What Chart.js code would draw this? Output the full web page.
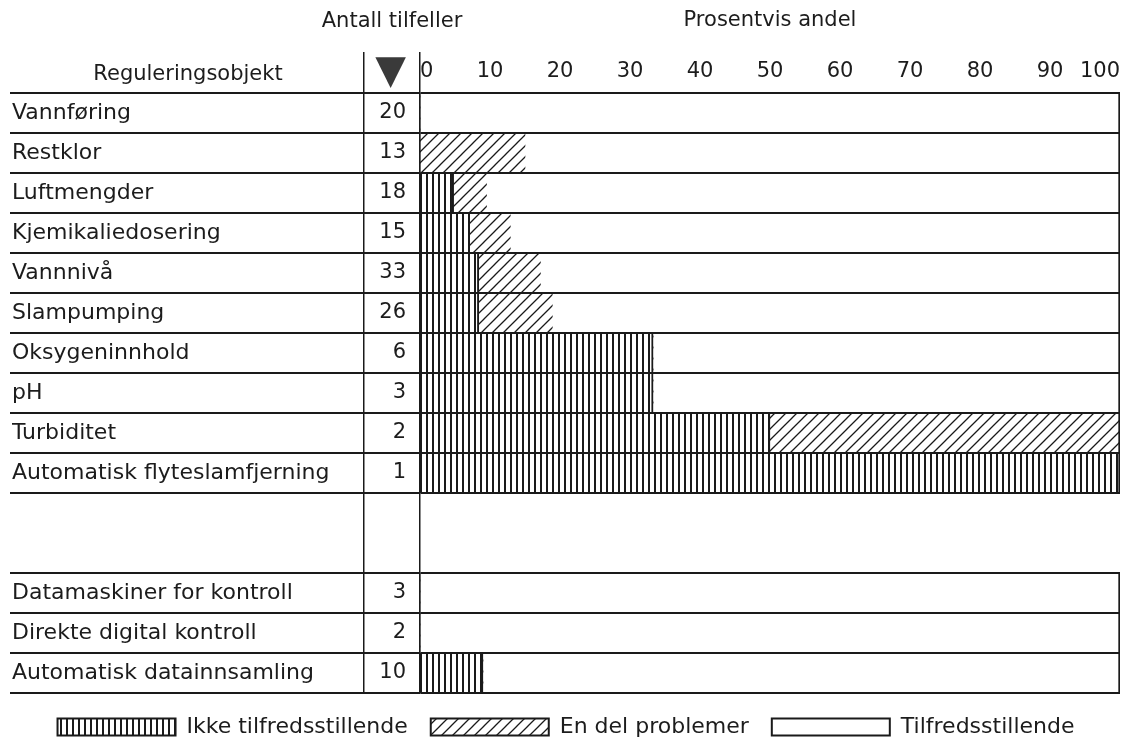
<!DOCTYPE html>
<html>
<head>
<meta charset="utf-8">
<script src="https://cdn.jsdelivr.net/npm/chart.js@4.4.1/dist/chart.umd.min.js"></script>
<style>
body { margin: 0; background: #fff; }
#wrap { position: relative; width: 1142px; height: 751px; }
.head { position: absolute; font-family: "DejaVu Sans"; font-size: 21px; line-height: 24px; color: #1c1c1c; text-align: center; }
</style>
</head>
<body>
<div id="wrap">
  <canvas id="chart" width="1142" height="751"></canvas>
  <div class="head" style="left:292px; top:8px; width:200px;">Antall tilfeller</div>
  <div class="head" style="left:12px; top:61px; width:352px;">Reguleringsobjekt</div>
</div>
<script>
// rows (two empty rows = the gap in the table)
const categories = [
  "Vannføring", "Restklor", "Luftmengder", "Kjemikaliedosering", "Vannnivå",
  "Slampumping", "Oksygeninnhold", "pH", "Turbiditet", "Automatisk flyteslamfjerning",
  "", "",
  "Datamaskiner for kontroll", "Direkte digital kontroll", "Automatisk datainnsamling"
];
const antall = [20, 13, 18, 15, 33, 26, 6, 3, 2, 1, null, null, 3, 2, 10];

// prosentvis andel
const ikkeTilfreds = [0, 0, 4.8, 7.1, 8.4, 8.4, 33.3, 33.3, 50, 100, null, null, 0, 0, 9];
const delProblemer = [0, 15, 4.7, 5.8, 8.8, 10.5, 0, 0, 50, 0, null, null, 0, 0, 0];
const tilfreds = [100, 85, 90.5, 87.1, 82.8, 81.1, 66.7, 66.7, 0, 0, null, null, 100, 100, 91];

const seriesNames = ["Ikke tilfredsstillende", "En del problemer", "Tilfredsstillende"];
const headMark = "▼";

const ink = "#1a1a1a";
Chart.defaults.font.family = "DejaVu Sans";
Chart.defaults.color = "#1c1c1c";

// first slot is the header row of the table
const yLabels = [""].concat(categories);
const countLabels = [headMark].concat(antall.map(a => a == null ? "" : String(a)));
const withHead = v => [null].concat(v);

function stripes() {
  const c = document.createElement("canvas");
  c.width = 6; c.height = 6;
  const g = c.getContext("2d");
  g.fillStyle = "#fff"; g.fillRect(0, 0, 6, 6);
  g.fillStyle = ink; g.fillRect(0, 0, 2, 6);
  return g.createPattern(c, "repeat");
}

function hatch() {
  const s = 11;
  const c = document.createElement("canvas");
  c.width = s; c.height = s;
  const g = c.getContext("2d");
  g.fillStyle = "#fff"; g.fillRect(0, 0, s, s);
  g.strokeStyle = ink; g.lineWidth = 1.3;
  g.beginPath();
  g.moveTo(0, s); g.lineTo(s, 0);
  g.moveTo(-1, 1); g.lineTo(1, -1);
  g.moveTo(s - 1, s + 1); g.lineTo(s + 1, s - 1);
  g.stroke();
  return g.createPattern(c, "repeat");
}

// hide the line above the header and the one inside the gap
const rowLine = c => (c.index === 0 || c.index === 12) ? "rgba(0,0,0,0)" : ink;

new Chart(document.getElementById("chart"), {
  type: "bar",
  data: {
    labels: yLabels,
    datasets: [
      { label: seriesNames[0], data: withHead(ikkeTilfreds), backgroundColor: stripes(),
        borderColor: ink, borderWidth: { left: 0, right: 2, top: 0, bottom: 0 } },
      { label: seriesNames[1], data: withHead(delProblemer), backgroundColor: hatch(),
        borderColor: ink,
        borderWidth: c => ({ left: 0, top: 0, bottom: 0, right: tilfreds[c.dataIndex - 1] === 0 ? 2 : 0 }) },
      { label: seriesNames[2], data: withHead(tilfreds), backgroundColor: "#fff",
        borderColor: ink, borderWidth: { left: 0, right: 2, top: 0, bottom: 0 } }
    ]
  },
  options: {
    indexAxis: "y",
    responsive: false,
    devicePixelRatio: 1,
    animation: false,
    layout: { padding: { left: 12, right: 22, top: 0, bottom: 3 } },
    datasets: { bar: { barPercentage: 1, categoryPercentage: 1, borderSkipped: false } },
    plugins: {
      tooltip: { enabled: false },
      legend: {
        position: "bottom",
        labels: {
          boxWidth: 118, boxHeight: 17, padding: 23,
          font: { size: 22 },
          generateLabels: chart => chart.data.datasets.map((d, i) => ({
            text: d.label, fillStyle: d.backgroundColor, strokeStyle: ink,
            lineWidth: 2, datasetIndex: i, hidden: false, fontColor: "#1c1c1c"
          }))
        }
      }
    },
    scales: {
      x: {
        type: "linear", position: "top", stacked: true, min: 0, max: 100,
        // labels sit inside the header row, under the axis line
        ticks: { stepSize: 10, align: "inner", mirror: true, padding: 6, maxRotation: 0, font: { size: 21 } },
        grid: { display: false, drawTicks: false },
        border: { display: false },
        title: { display: true, text: "Prosentvis andel", font: { size: 21 }, padding: { top: 8, bottom: 0 } },
        afterFit: s => { s.height = 53; }
      },
      y: {
        type: "category", position: "left", stacked: true, weight: 1, offset: true,
        // row lines drawn over the bars
        grid: { offset: true, color: rowLine, lineWidth: 2, tickLength: 354, z: 1 },
        border: { display: true, color: ink, width: 1.5, z: 1 },
        ticks: { crossAlign: "far", autoSkip: false, font: { size: 22 } },
        afterFit: s => { s.width = 352; }
      },
      yc: {
        type: "category", position: "left", weight: 0, offset: true, labels: countLabels,
        grid: { offset: true, color: rowLine, lineWidth: 2, tickLength: 56, drawOnChartArea: false },
        border: { display: true, color: ink, width: 1.5, z: 1 },
        ticks: {
          autoSkip: false, padding: -42,
          color: c => c.index === 0 ? "#3a3a3a" : "#1c1c1c",
          font: c => c.index === 0 ? { size: 40 } : { size: 21 }
        },
        afterFit: s => { s.width = 56; }
      }
    }
  }
});
</script>
</body>
</html>
